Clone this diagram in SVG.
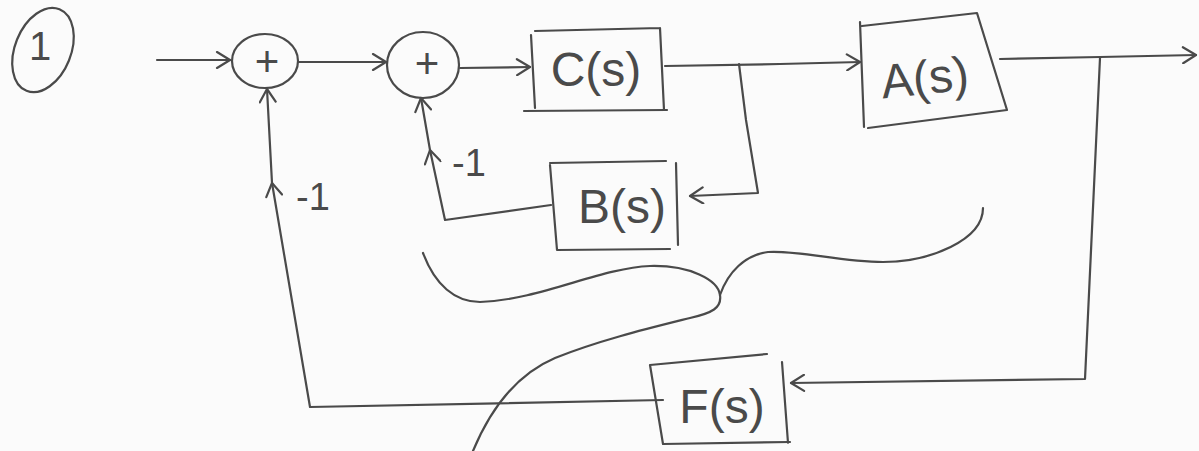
<svg xmlns="http://www.w3.org/2000/svg" width="1199" height="451" viewBox="0 0 1199 451">
<style>
.s{fill:none;stroke:#4a4a4a;stroke-width:2.2;stroke-linecap:round;stroke-linejoin:round}
.t{font-family:"Liberation Sans",Arial,sans-serif;fill:#4a4a4a}
.big{font-size:48px}
.mid{font-size:38px}
.pl{font-size:42px}
</style>
<defs>
<marker id="ah" markerWidth="18" markerHeight="18" refX="15" refY="9" orient="auto" markerUnits="userSpaceOnUse">
<path d="M2,1 L15,9 L2,17" fill="none" stroke="#4a4a4a" stroke-width="2.2" stroke-linecap="round" stroke-linejoin="round"/>
</marker>
</defs>
<rect width="1199" height="451" fill="#fbfbfb"/>

<g id="label1">
<ellipse class="s" cx="43" cy="50" rx="28" ry="44" transform="rotate(22 43 50)"/>
<text class="t" x="40" y="60" font-size="40" text-anchor="middle" font-weight="200">1</text>
</g>

<g id="sum1">
<ellipse class="s" cx="265" cy="61" rx="33" ry="27"/>
<text class="t pl" x="267" y="76" text-anchor="middle">+</text>
</g>

<g id="sum2">
<ellipse class="s" cx="423" cy="65" rx="36" ry="33"/>
<text class="t pl" x="427" y="78" text-anchor="middle">+</text>
</g>

<g id="C">
<path class="s" d="M535,31 L660,28 M531,35 L535,108 M660,28 L664,110 M524,111 L667,110"/>
<text class="t big" x="596" y="86" text-anchor="middle">C(s)</text>
</g>

<g id="A">
<path class="s" d="M862,26 L977,13 L1007,110 L868,128 M860,22 L864,127"/>
<text class="t big" x="925" y="94" text-anchor="middle" transform="rotate(-6 925 80)">A(s)</text>
</g>

<g id="B">
<path class="s" d="M550,163 L666,161 M550,165 L557,250 L670,249 M676,163 L678,245"/>
<text class="t big" x="622" y="223" text-anchor="middle">B(s)</text>
</g>

<g id="F">
<path class="s" d="M650,365 L767,354 M650,365 L663,444 L790,442 M782,362 L788,443"/>
<text class="t big" x="722" y="423" text-anchor="middle">F(s)</text>
</g>

<g id="connectors">
<path class="s" d="M157,60 L230,60" marker-end="url(#ah)"/>
<path class="s" d="M298,62 L386,62" marker-end="url(#ah)"/>
<path class="s" d="M460,68 L530,67" marker-end="url(#ah)"/>
<path class="s" d="M665,66 L780,64 L860,62" marker-end="url(#ah)"/>
<path class="s" d="M1000,59 L1100,57 L1196,55" marker-end="url(#ah)"/>
<path class="s" d="M739,64 L746,120 L758,193 L690,196" marker-end="url(#ah)"/>
<path class="s" d="M551,205 L445,220 L430,150" marker-end="url(#ah)"/>
<path class="s" d="M430,150 L421,98" marker-end="url(#ah)"/>
<path class="s" d="M1100,58 L1085,379 L791,383" marker-end="url(#ah)"/>
<path class="s" d="M663,400 L310,407 L272,183" marker-end="url(#ah)"/>
<path class="s" d="M272,183 L267,89" marker-end="url(#ah)"/>
<text class="t mid" x="296" y="210" font-weight="200">-1</text>
<text class="t mid" x="452" y="176" font-weight="200">-1</text>
</g>

<g id="brace">
<path class="s" d="M423,253 C435,285 455,302 480,302 C540,300 600,268 650,266 C690,265 718,280 720,295"/>
<path class="s" d="M720,295 C728,272 745,255 768,252 C800,250 840,262 883,262 C930,262 983,240 983,208"/>
<path class="s" d="M720,295 C722,308 712,313 690,318 C650,328 600,340 555,358 C515,375 490,410 473,451"/>
</g>
</svg>
